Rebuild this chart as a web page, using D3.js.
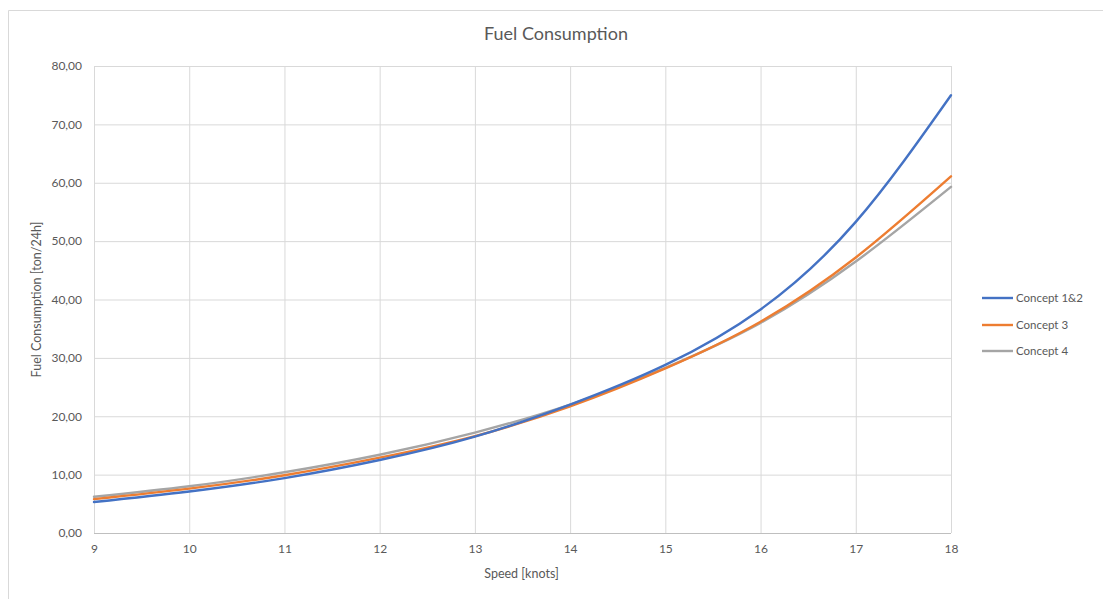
<!DOCTYPE html>
<html>
<head>
<meta charset="utf-8">
<script src="https://cdn.jsdelivr.net/npm/d3@7"></script>
<style>
  html, body { margin: 0; padding: 0; background: #fff; }
  svg { display: block; font-family: Lato, "Open Sans", "Liberation Sans", sans-serif; }
</style>
</head>
<body>
<svg id="chart" width="1103" height="599"></svg>
<script>
// Speed in knots
const speeds = [9, 10, 11, 12, 13, 14, 15, 16, 17, 18];
// Fuel consumption in ton/24h per concept
const concept12 = [5.3, 7.1, 9.4, 12.5, 16.5, 22.0, 28.8, 38.3, 53.3, 75.0];
const concept3  = [5.8, 7.6, 9.9, 12.9, 16.6, 21.7, 28.2, 36.2, 47.2, 61.1];
const concept4  = [6.2, 8.0, 10.4, 13.4, 17.2, 22.0, 28.3, 36.0, 46.5, 59.3];
const seriesNames = ["Concept 1&2", "Concept 3", "Concept 4"];
const yTicks = [0, 10, 20, 30, 40, 50, 60, 70, 80];

const colors = ["#4472C4", "#ED7D31", "#A5A5A5"];
const seriesValues = [concept12, concept3, concept4];

const svg = d3.select("#chart");
const plotLeft = 94, plotRight = 951, plotTop = 66, plotBottom = 533;

const x = d3.scaleLinear().domain([9, 18]).range([plotLeft, plotRight]);
const y = d3.scaleLinear().domain([0, 80]).range([plotBottom, plotTop]);

// chart area frame
svg.append("path")
  .attr("d", "M8.5,599 V10.5 H1103")
  .attr("fill", "none").attr("stroke", "#d9d9d9").attr("stroke-width", 1);

// title
svg.append("text")
  .attr("x", 556).attr("y", 40)
  .attr("text-anchor", "middle")
  .attr("font-size", 18).attr("fill", "#595959")
  .text("Fuel Consumption");

// horizontal gridlines + y labels
const yAxis = d3.axisLeft(y).tickValues(yTicks)
  .tickSize(-(plotRight - plotLeft)).tickPadding(12)
  .tickFormat(d => d3.format(".2f")(d).replace(".", ","));
const gy = svg.append("g").attr("transform", `translate(${plotLeft},0)`).call(yAxis);
gy.select(".domain").remove();
gy.selectAll(".tick line").attr("stroke", "#d9d9d9");
gy.selectAll(".tick text").attr("font-size", 12).attr("fill", "#595959")
  .attr("font-family", "Lato, 'Open Sans', sans-serif");

// vertical gridlines + x labels
const xAxis = d3.axisBottom(x).tickValues(speeds)
  .tickSize(-(plotBottom - plotTop)).tickPadding(11)
  .tickFormat(d3.format("d"));
const gx = svg.append("g").attr("transform", `translate(0,${plotBottom})`).call(xAxis);
gx.select(".domain").remove();
gx.selectAll(".tick line").attr("stroke", "#d9d9d9");
gx.selectAll(".tick text").attr("font-size", 12).attr("fill", "#595959")
  .attr("font-family", "Lato, 'Open Sans', sans-serif");

// baseline
svg.append("line")
  .attr("x1", plotLeft).attr("x2", plotRight)
  .attr("y1", plotBottom + 0.5).attr("y2", plotBottom + 0.5)
  .attr("stroke", "#bfbfbf");

// axis titles
svg.append("text")
  .attr("x", (plotLeft + plotRight) / 2 - 1).attr("y", 578)
  .attr("text-anchor", "middle")
  .attr("font-size", 12.5).attr("fill", "#595959")
  .text("Speed [knots]");
svg.append("text")
  .attr("transform", `translate(41,${(plotTop + plotBottom) / 2}) rotate(-90)`)
  .attr("text-anchor", "middle")
  .attr("font-size", 12.5).attr("fill", "#595959")
  .text("Fuel Consumption [ton/24h]");

// series lines, drawn back to front
const line = d3.line()
  .x(d => x(d[0])).y(d => y(d[1]))
  .curve(d3.curveNatural);
[2, 1, 0].forEach(i => {
  svg.append("path")
    .datum(speeds.map((s, j) => [s, seriesValues[i][j]]))
    .attr("d", line)
    .attr("fill", "none")
    .attr("stroke", colors[i])
    .attr("stroke-width", 2.4)
    .attr("stroke-linecap", "round");
});

// legend
const legendY = [298, 325, 351];
seriesNames.forEach((name, i) => {
  const g = svg.append("g").attr("transform", `translate(982,${legendY[i]})`);
  g.append("line").attr("x1", 0).attr("x2", 31).attr("y1", 0).attr("y2", 0)
    .attr("stroke", colors[i]).attr("stroke-width", 2.4);
  g.append("text").attr("x", 34).attr("y", 4)
    .attr("font-size", 11.5).attr("fill", "#595959")
    .text(name);
});
</script>
</body>
</html>
